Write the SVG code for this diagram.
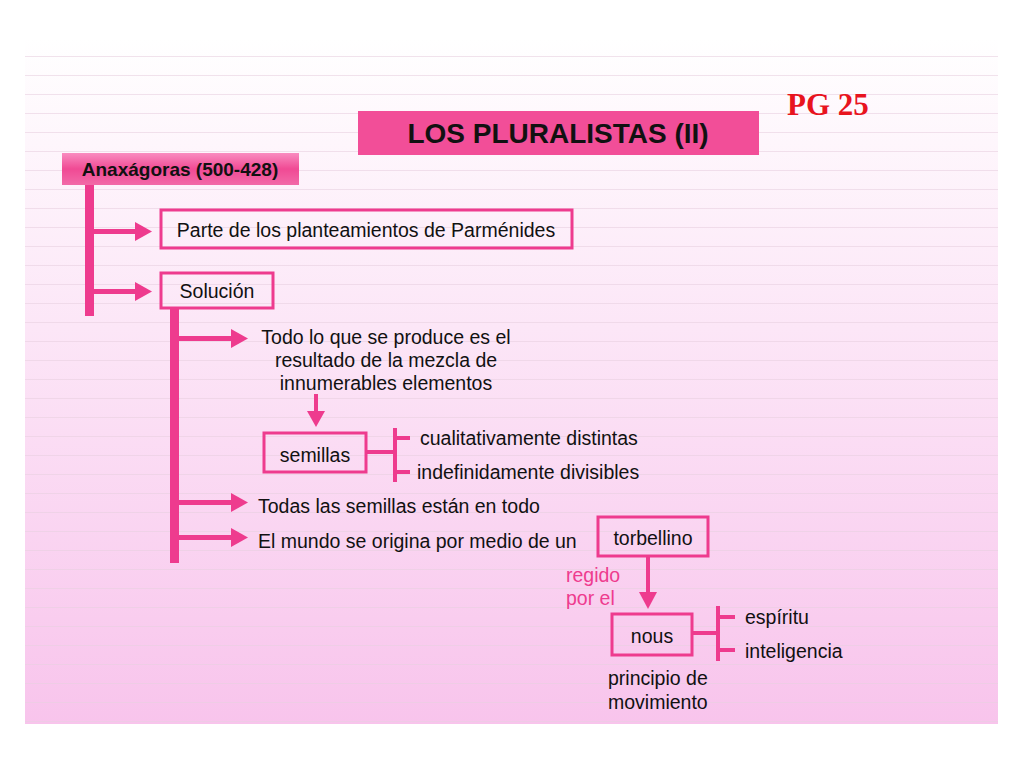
<svg xmlns="http://www.w3.org/2000/svg" width="1024" height="768" viewBox="0 0 1024 768">
<defs>
<linearGradient id="bg" x1="0" y1="0" x2="0" y2="1"><stop offset="0" stop-color="#ffffff"/><stop offset="1" stop-color="#f8c4ec"/></linearGradient>
<linearGradient id="hd" x1="0" y1="0" x2="0" y2="1"><stop offset="0" stop-color="#f98cc0"/><stop offset="0.5" stop-color="#f04a94"/><stop offset="1" stop-color="#f26aa8"/></linearGradient>
<pattern id="ln" width="1024" height="19" patternUnits="userSpaceOnUse"><line x1="0" y1="18.5" x2="1024" y2="18.5" stroke="#e8d0e0" stroke-width="1"/></pattern>
</defs>
<style>
.t{font-family:"Liberation Sans",Arial,sans-serif;font-size:19.5px;fill:#111}
.c{text-anchor:middle}
.p{fill:#ee3b8e}
.box{fill:none;stroke:#ee3b8e;stroke-width:3}
.bar{fill:#ee3b8e}
.ln{stroke:#ee3b8e;stroke-width:4;fill:none}
</style>
<rect width="1024" height="768" fill="#fff"/>
<rect x="25" y="38" width="973" height="686" fill="url(#bg)"/>
<rect x="25" y="38" width="973" height="686" fill="url(#ln)" opacity="0.6"/>
<text x="787" y="115" font-family="Liberation Serif,serif" font-weight="bold" font-size="31" fill="#e8141e">PG 25</text>
<g id="title"><rect x="358" y="111" width="401" height="44" fill="#f24e98"/><text x="558" y="143" class="t c" style="font-size:28px;font-weight:bold">LOS PLURALISTAS (II)</text></g>
<g id="anax"><rect x="62" y="153" width="237" height="32" fill="url(#hd)"/><text x="180" y="176" class="t c" style="font-size:19px;font-weight:bold">Anaxágoras (500-428)</text></g>
<g id="connectors">
<rect class="bar" x="85" y="185" width="9" height="131"/>
<rect class="bar" x="170" y="308" width="9" height="255"/>
<g class="bar">
<rect x="94" y="229" width="44" height="5"/><polygon points="135,222 152,231.5 135,241"/>
<rect x="94" y="289" width="44" height="5"/><polygon points="135,282 152,291.5 135,301"/>
<rect x="179" y="336" width="55" height="5"/><polygon points="231,329 248,338.5 231,348"/>
<rect x="179" y="500" width="55" height="5"/><polygon points="231,493 248,502.5 231,512"/>
<rect x="179" y="535" width="55" height="5"/><polygon points="231,528 248,537.5 231,547"/>
<rect x="314" y="394" width="4" height="20"/><polygon points="307,411 325,411 316,427"/>
<rect x="646" y="556" width="4" height="38"/><polygon points="639,592 657,592 648,609"/>
</g>
<path class="ln" d="M366 452H395M395 428V482M395 438H410M395 472H410"/>
<path class="ln" d="M692 633H718M718 606V661M718 617H735M718 650H735"/>
</g>
<g id="parte"><rect class="box" x="161" y="210" width="411" height="38"/><text x="366" y="237" class="t c">Parte de los planteamientos de Parménides</text></g>
<g id="solucion"><rect class="box" x="161" y="273" width="112" height="35"/><text x="217" y="298" class="t c">Solución</text></g>
<g id="todo"><text class="t c" x="386" y="344">Todo lo que se produce es el</text><text class="t c" x="386" y="367">resultado de la mezcla de</text><text class="t c" x="386" y="390">innumerables elementos</text></g>
<g id="semillas"><rect class="box" x="264" y="433" width="102" height="39"/><text x="315" y="462" class="t c">semillas</text></g>
<text class="t" x="420" y="445">cualitativamente distintas</text>
<text class="t" x="417" y="479">indefinidamente divisibles</text>
<text class="t" x="258" y="513">Todas las semillas están en todo</text>
<text class="t" x="258" y="548">El mundo se origina por medio de un</text>
<g id="torbellino"><rect class="box" x="598" y="517" width="110" height="39"/><text x="653" y="545" class="t c">torbellino</text></g>
<text class="t p" x="566" y="582">regido</text>
<text class="t p" x="566" y="605">por el</text>
<g id="nous"><rect class="box" x="612" y="614" width="80" height="41"/><text x="652" y="643" class="t c">nous</text></g>
<text class="t" x="745" y="624">espíritu</text>
<text class="t" x="745" y="658">inteligencia</text>
<text class="t" x="608" y="685">principio de</text>
<text class="t" x="608" y="709">movimiento</text>
</svg>
